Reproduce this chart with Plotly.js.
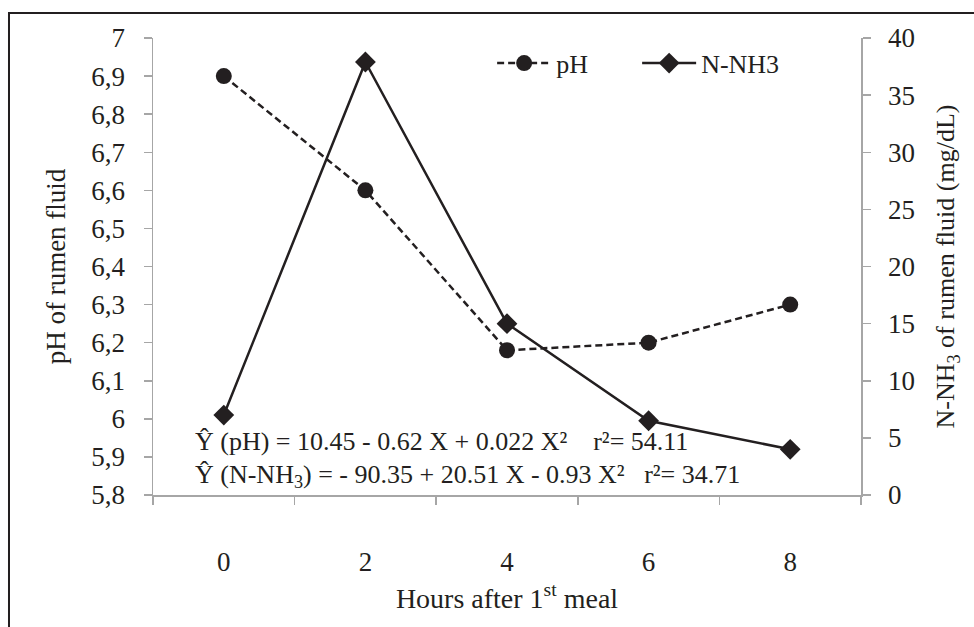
<!DOCTYPE html>
<html>
<head>
<meta charset="utf-8">
<script src="https://cdn.plot.ly/plotly-3.0.1.min.js"></script>
<style>html,body{margin:0;padding:0;background:#fff;}#chart{width:974px;height:627px;}</style>
</head>
<body>
<div id="chart"></div>
<script>
// Data
const hours = ['0', '2', '4', '6', '8'];
const phValues = [6.90, 6.60, 6.18, 6.20, 6.30];
const nnh3Values = [7.0, 37.9, 15.0, 6.5, 4.0];
const phTicks = [5.8, 5.9, 6.0, 6.1, 6.2, 6.3, 6.4, 6.5, 6.6, 6.7, 6.8, 6.9, 7.0];
const phTickLabels = ['5,8', '5,9', '6', '6,1', '6,2', '6,3', '6,4', '6,5', '6,6', '6,7', '6,8', '6,9', '7'];
const nnh3Ticks = [0, 5, 10, 15, 20, 25, 30, 35, 40];
const eqPH = 'Ŷ (pH) = 10.45 - 0.62 X + 0.022 X²\u00a0\u00a0\u00a0\u00a0r²= 54.11';
const eqN = 'Ŷ (N-NH<sub>3</sub>) = - 90.35 + 20.51 X - 0.93 X²\u00a0\u00a0\u00a0r²= 34.71';

const ink = '#231f20';
const axisGray = '#a6a6a6';
const fontFam = 'Liberation Serif, Times New Roman, serif';

const traces = [
  {
    x: hours, y: phValues, name: 'pH', type: 'scatter', mode: 'lines+markers',
    line: {color: ink, width: 2.5, dash: '7px,4px'},
    marker: {symbol: 'circle', size: 16, color: ink},
    yaxis: 'y'
  },
  {
    x: hours, y: nnh3Values, name: 'N-NH3', type: 'scatter', mode: 'lines+markers',
    line: {color: ink, width: 2.5},
    marker: {symbol: 'diamond', size: 16, color: ink},
    yaxis: 'y2'
  }
];

const layout = {
  width: 974, height: 627,
  margin: {l: 153, r: 113, t: 38, b: 132},
  paper_bgcolor: '#fff', plot_bgcolor: '#fff',
  font: {family: fontFam, size: 27, color: ink},
  showlegend: true,
  legend: {
    orientation: 'h', x: 0.479, y: 0.945, xanchor: 'left', yanchor: 'middle',
    entrywidth: 76, entrywidthmode: 'pixels', itemwidth: 54,
    font: {family: fontFam, size: 26, color: ink}, bgcolor: 'rgba(0,0,0,0)'
  },
  xaxis: {
    type: 'category', tickson: 'boundaries', range: [-0.5, 4.5],
    showline: true, linecolor: axisGray, linewidth: 1.5,
    ticks: 'outside', ticklen: 8, tickcolor: axisGray, tickwidth: 1.5,
    showgrid: false, zeroline: false, ticklabelstandoff: 42,
    tickfont: {family: fontFam, size: 27, color: ink},
    title: {text: 'Hours after 1<sup>st</sup> meal', standoff: 12, font: {family: fontFam, size: 28, color: ink}},
    automargin: false
  },
  yaxis: {
    range: [5.8, 7.0], tickvals: phTicks, ticktext: phTickLabels,
    showline: true, linecolor: axisGray, linewidth: 1.5,
    ticks: 'outside', ticklen: 8, tickcolor: axisGray, tickwidth: 1.5,
    showgrid: false, zeroline: false, ticklabelstandoff: 13,
    tickfont: {family: fontFam, size: 27, color: ink},
    title: {text: 'pH of rumen fluid', standoff: 18, font: {family: fontFam, size: 27, color: ink}},
    automargin: false
  },
  yaxis2: {
    overlaying: 'y', side: 'right', range: [0, 40], tickvals: nnh3Ticks,
    showline: true, linecolor: axisGray, linewidth: 1.5,
    ticks: 'outside', ticklen: 8, tickcolor: axisGray, tickwidth: 1.5,
    showgrid: false, zeroline: false, ticklabelstandoff: 12,
    tickfont: {family: fontFam, size: 27, color: ink},
    title: {text: 'N-NH<sub>3</sub> of rumen fluid (mg/dL)', standoff: 22, font: {family: fontFam, size: 26, color: ink}},
    automargin: false
  },
  annotations: [
    {text: eqPH, xref: 'paper', yref: 'paper', x: 0.0565, y: 0.116, xanchor: 'left', yanchor: 'middle',
     showarrow: false, font: {family: fontFam, size: 26, color: ink}},
    {text: eqN, xref: 'paper', yref: 'paper', x: 0.0565, y: 0.042, xanchor: 'left', yanchor: 'middle',
     showarrow: false, font: {family: fontFam, size: 26, color: ink}}
  ],
  shapes: [
    {type: 'rect', xref: 'paper', yref: 'paper', x0: -0.2034, x1: 1.4, y0: -0.6, y1: 1.0547,
     line: {color: ink, width: 2}, fillcolor: 'rgba(0,0,0,0)', layer: 'below'}
  ]
};

Plotly.newPlot('chart', traces, layout, {displayModeBar: false, staticPlot: true});
</script>
</body>
</html>
